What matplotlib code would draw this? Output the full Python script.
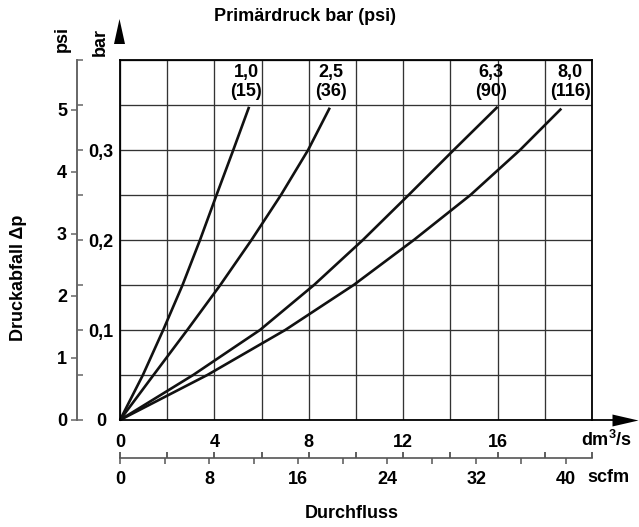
import numpy as np
import matplotlib
matplotlib.use('Agg')
import matplotlib.pyplot as plt
from matplotlib.ticker import MultipleLocator, FixedLocator

plt.rcParams['font.family'] = ['Liberation Sans', 'DejaVu Sans']
plt.rcParams['font.weight'] = 'bold'
plt.rcParams['font.size'] = 13
plt.rcParams['mathtext.fontset'] = 'custom'
plt.rcParams['mathtext.bf'] = 'Liberation Sans:bold'

# Durchfluss (dm3/s) bei Druckabfall (bar)
dp_bar = [0, 0.05, 0.10, 0.15, 0.20, 0.25, 0.30]
flow_10 = [0, 0.97, 1.83, 2.65, 3.39, 4.09, 4.80, 5.47]
flow_25 = [0, 1.42, 2.85, 4.25, 5.57, 6.82, 7.97, 8.89]
flow_63 = [0, 3.10, 5.93, 8.22, 10.29, 12.23, 14.14, 16.00]
flow_80 = [0, 3.70, 7.00, 9.90, 12.45, 14.85, 16.95, 18.70]
dp_end = [0.348, 0.347, 0.348, 0.346]

curve_labels = ['1,0\n(15)', '2,5\n(36)', '6,3\n(90)', '8,0\n(116)']
label_x = [5.34, 8.94, 15.72, 19.07]

dm_labels = [0, 4, 8, 12, 16]
scfm_ticks = [0, 4, 8, 12, 16, 20, 24, 28, 32, 36, 40]
scfm_labels = ['0', '', '8', '', '16', '', '24', '', '32', '', '40']
psi_ticks = [0, 1, 2, 3, 4, 5]
bar_ticks = [0, 0.05, 0.1, 0.15, 0.2, 0.25, 0.3, 0.35, 0.4]
bar_labels = ['0', '', '0,1', '', '0,2', '', '0,3', '', '']

DM_TO_SCFM = 2.1189
BAR_TO_PSI = 14.5038
XMAX, YMAX = 20, 0.4

W, H = 639, 527
fig = plt.figure(figsize=(W / 100, H / 100), dpi=100)
pos = [120 / W, 1 - 420 / H, 472 / W, 360 / H]
px = 72 / 100  # pixel -> point

# Hauptdiagramm
ax = fig.add_axes(pos)
ax.set_xlim(0, XMAX)
ax.set_ylim(0, YMAX)
ax.set_xticks(dm_labels)
ax.set_xticklabels([str(v) for v in dm_labels])
ax.xaxis.set_minor_locator(MultipleLocator(2))
ax.yaxis.set_major_locator(MultipleLocator(0.05))
ax.set_yticklabels([])
ax.tick_params(axis='both', which='both', length=0)
ax.tick_params(axis='x', pad=14 * px)
ax.grid(True, which='both', color='#333333', lw=0.95)
ax.set_axisbelow(True)
for s in ax.spines.values():
    s.set_color('black')
    s.set_linewidth(1.3)

for flows, yend in zip([flow_10, flow_25, flow_63, flow_80], dp_end):
    ax.plot(flows, dp_bar + [yend], color='#111111', lw=1.9,
            solid_capstyle='butt', solid_joinstyle='round', clip_on=False)

for lx, txt in zip(label_x, curve_labels):
    ax.text(lx, 0.3756, txt, ha='center', va='center', linespacing=1.15,
            fontweight='bold')

# Pfeile an den Achsen
ax.plot([1.0, 1.06], [0, 0], transform=ax.transAxes, color='black',
        lw=1.3, clip_on=False)
ax.plot([1.0689], [0], transform=ax.transAxes, clip_on=False, color='black',
        marker=[(-0.5, -0.23), (-0.5, 0.23), (0.5, 0)], markersize=26 * px,
        markeredgewidth=0, linestyle='none')
ax.plot([-0.0025], [1.0811], transform=ax.transAxes, clip_on=False,
        color='black', marker=[(-0.22, -0.5), (0.22, -0.5), (0, 0.5)],
        markersize=25 * px, markeredgewidth=0, linestyle='none')

# psi / bar Achse links
spine_x = (77 - 120) / 472
axp = fig.add_axes(pos, frameon=True)
axp.patch.set_visible(False)
axp.set_ylim(0, YMAX * BAR_TO_PSI)
axp.set_xticks([])
axp.set_yticks(psi_ticks)
for name, s in axp.spines.items():
    s.set_visible(name == 'left')
axp.spines['left'].set_position(('axes', spine_x))
axp.spines['left'].set_color('#666666')
axp.spines['left'].set_linewidth(1.2)
axp.tick_params(axis='y', direction='out', length=6 * px, width=1.1,
                color='#666666', pad=4 * px)

axb = fig.add_axes(pos, frameon=True)
axb.patch.set_visible(False)
axb.set_ylim(0, YMAX)
axb.set_xticks([])
for name, s in axb.spines.items():
    s.set_visible(name == 'right')
axb.spines['right'].set_position(('axes', spine_x))
axb.spines['right'].set_color('#666666')
axb.spines['right'].set_linewidth(1.2)
axb.yaxis.tick_right()
axb.yaxis.set_major_locator(FixedLocator(bar_ticks))
axb.set_yticklabels(bar_labels)
axb.tick_params(axis='y', direction='out', length=6 * px, width=1.1,
                color='#666666', pad=18 * px)
for t in axb.get_yticklabels():
    t.set_horizontalalignment('center')

# scfm Achse unten
axs = fig.add_axes(pos, frameon=True)
axs.patch.set_visible(False)
axs.set_xlim(0, XMAX * DM_TO_SCFM)
axs.set_yticks([])
for name, s in axs.spines.items():
    s.set_visible(name == 'bottom')
axs.spines['bottom'].set_position(('outward', 38 * px))
axs.spines['bottom'].set_color('#555555')
axs.spines['bottom'].set_linewidth(1.2)
axs.xaxis.remove_overlapping_locs = False
axs.set_xticks(scfm_ticks)
axs.set_xticklabels(scfm_labels)
axs.xaxis.set_minor_locator(FixedLocator(np.arange(0, XMAX + 1, 2) * DM_TO_SCFM))
axs.tick_params(axis='x', which='major', direction='out', length=6 * px,
                width=1.1, color='#555555', pad=7 * px)
axs.tick_params(axis='x', which='minor', direction='in', length=6 * px,
                width=1.1, color='#333333')

# Beschriftungen
fig.text(305 / W, 1 - 16.5 / H, 'Primärdruck bar (psi)', ha='center', va='center')
fig.text(352 / W, 1 - 513 / H, 'Durchfluss', ha='center', va='center')
fig.text(62 / W, 1 - 39 / H, 'psi', rotation=90, ha='center', va='center')
fig.text(100 / W, 1 - 42 / H, 'bar', rotation=90, ha='center', va='center')
fig.text(18.5 / W, 1 - 278 / H, 'Druckabfall Δp', rotation=90, ha='center', va='center')
fig.text(606 / W, 1 - 440 / H, r'dm$^{\mathbf{3}}$/s', ha='center', va='center')
fig.text(608 / W, 1 - 477 / H, 'scfm', ha='center', va='center')

fig.savefig('out.png', dpi=100)
